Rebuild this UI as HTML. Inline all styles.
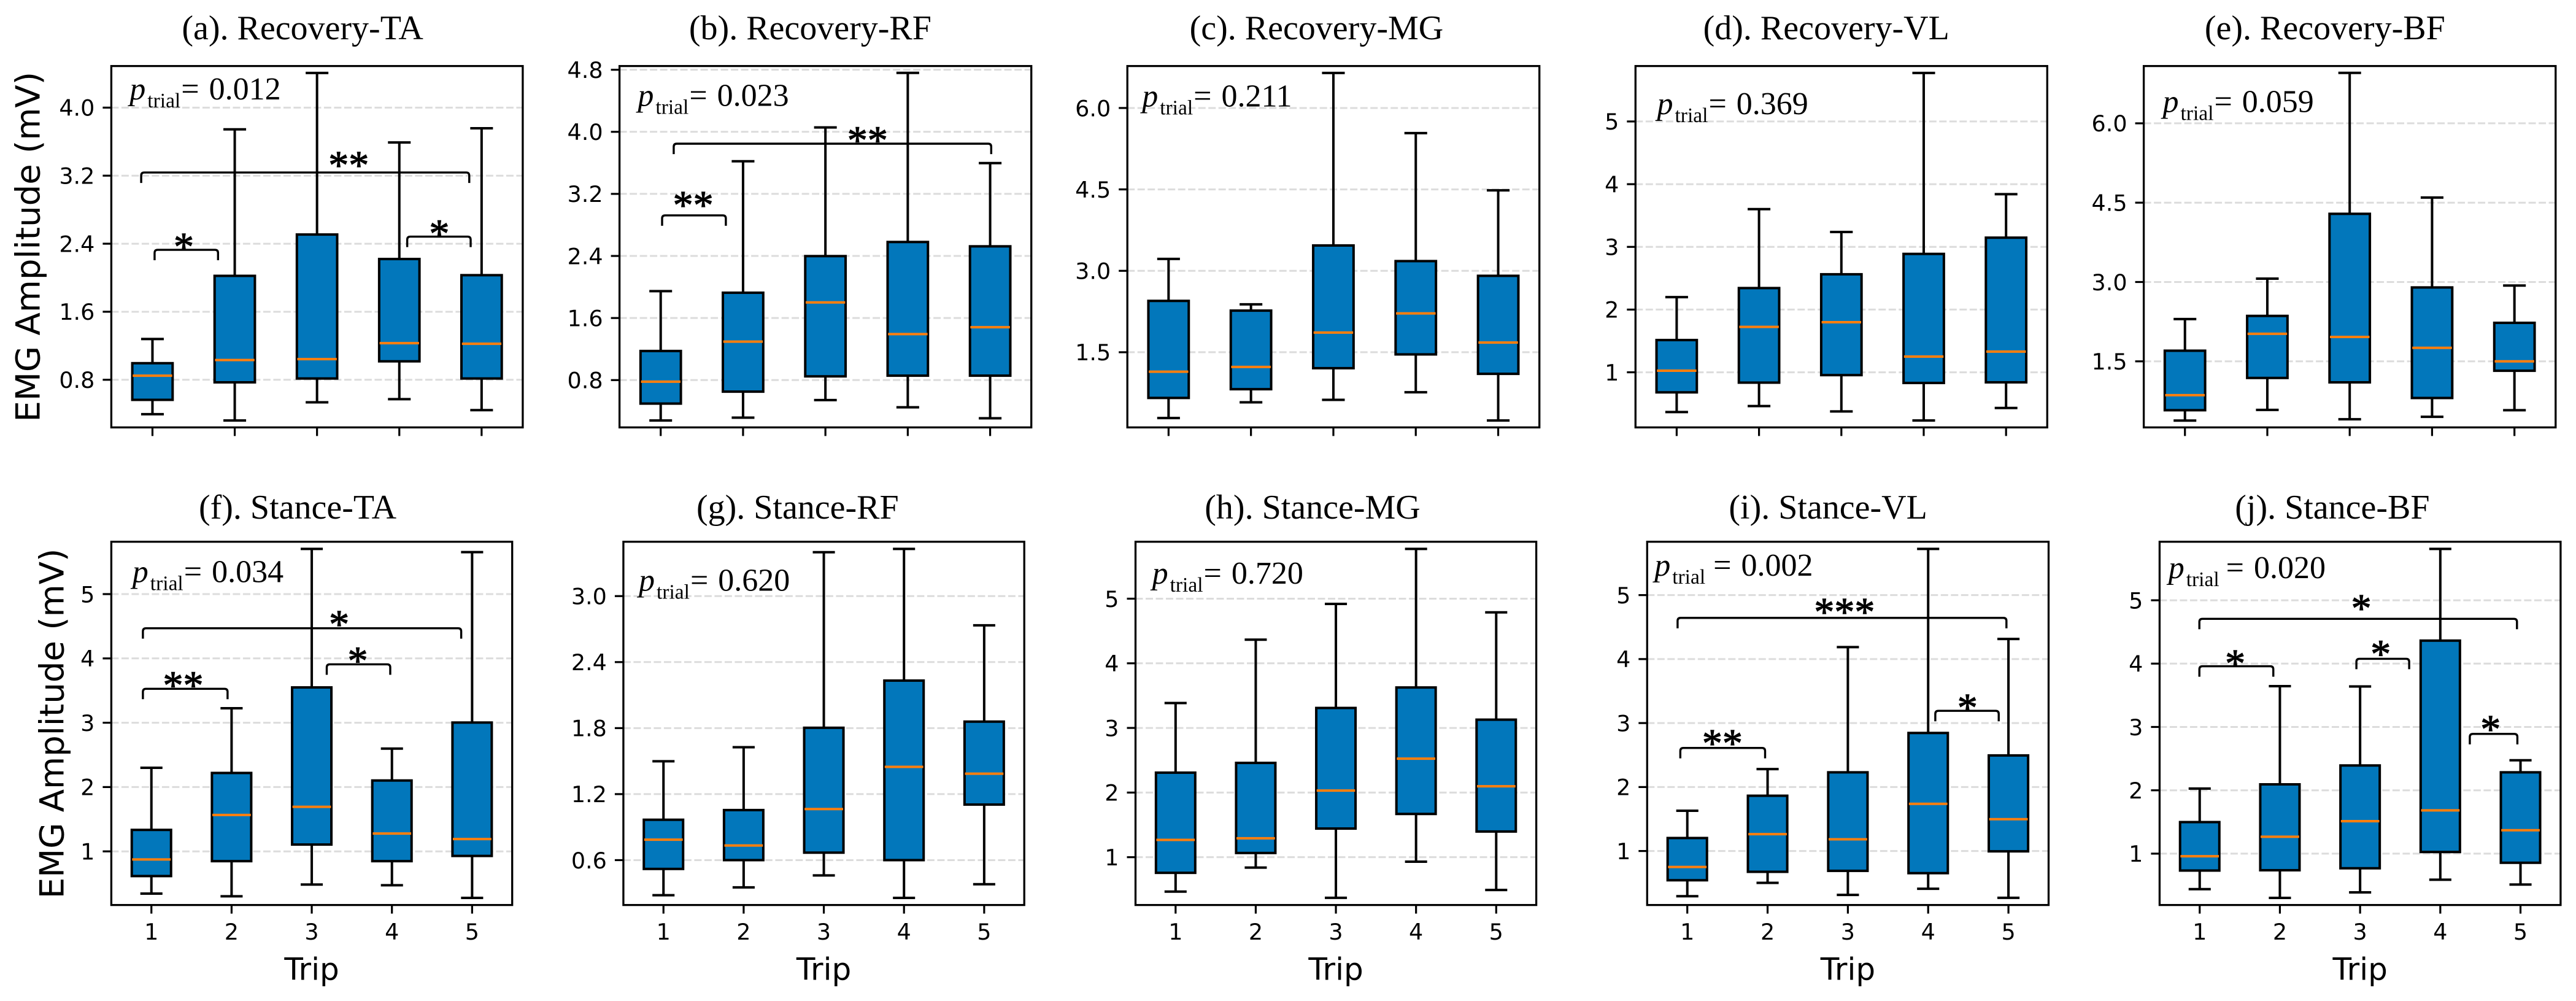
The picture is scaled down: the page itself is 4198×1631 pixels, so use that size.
<!DOCTYPE html>
<html lang="en">
<head>
<meta charset="utf-8">
<title>EMG Amplitude by Trip</title>
<style>
html,body{margin:0;padding:0;background:#fff;}
svg{display:block;}
</style>
</head>
<body>
<svg id="chart" xmlns="http://www.w3.org/2000/svg" width="4198" height="1631" viewBox="0 0 4198 1631"></svg>
<script>
const panelTitles = ["(a). Recovery-TA","(b). Recovery-RF","(c). Recovery-MG","(d). Recovery-VL","(e). Recovery-BF","(f). Stance-TA","(g). Stance-RF","(h). Stance-MG","(i). Stance-VL","(j). Stance-BF"];
const pValues = ["0.012","0.023","0.211","0.369","0.059","0.034","0.620","0.720","0.002","0.020"];
const trips = [1,2,3,4,5];
const xTickLabels = ["1","2","3","4","5"];
const yTickLabels = [
  ["0.8","1.6","2.4","3.2","4.0"],
  ["0.8","1.6","2.4","3.2","4.0","4.8"],
  ["1.5","3.0","4.5","6.0"],
  ["1","2","3","4","5"],
  ["1.5","3.0","4.5","6.0"],
  ["1","2","3","4","5"],
  ["0.6","1.2","1.8","2.4","3.0"],
  ["1","2","3","4","5"],
  ["1","2","3","4","5"],
  ["1","2","3","4","5"]
];
const yDomains = [[0.240,4.489],[0.190,4.848],[0.115,6.773],[0.121,5.884],[0.251,7.083],[0.166,5.814],[0.192,3.494],[0.260,5.881],[0.156,5.834],[0.189,5.924]];
const whiskerLow = [
  [0.395,0.321,0.535,0.572,0.443],
  [0.279,0.316,0.542,0.449,0.308],
  [0.288,0.577,0.623,0.762,0.242],
  [0.366,0.461,0.376,0.231,0.431],
  [0.381,0.582,0.405,0.452,0.576],
  [0.343,0.302,0.484,0.474,0.277],
  [0.281,0.352,0.461,0.257,0.381],
  [0.467,0.839,0.371,0.930,0.492],
  [0.294,0.502,0.314,0.410,0.268],
  [0.440,0.302,0.389,0.589,0.512]
];
const quartile1 = [
  [0.564,0.770,0.815,1.017,0.815],
  [0.497,0.651,0.848,0.857,0.857],
  [0.658,0.819,1.206,1.460,1.102],
  [0.680,0.835,0.955,0.830,0.840],
  [0.576,1.186,1.103,0.807,1.322],
  [0.616,0.848,1.106,0.848,0.929],
  [0.520,0.600,0.668,0.600,1.105],
  [0.758,1.065,1.443,1.669,1.397],
  [0.543,0.675,0.690,0.654,0.995],
  [0.733,0.738,0.769,1.026,0.856]
];
const medians = [
  [0.848,1.032,1.043,1.231,1.223],
  [0.780,1.296,1.801,1.393,1.482],
  [1.142,1.229,1.863,2.215,1.679],
  [1.025,1.724,1.799,1.250,1.330],
  [0.861,2.021,1.962,1.755,1.500],
  [0.874,1.566,1.693,1.278,1.192],
  [0.786,0.733,1.064,1.448,1.386],
  [1.267,1.292,2.031,2.525,2.097],
  [0.751,1.264,1.183,1.737,1.498],
  [0.959,1.267,1.513,1.683,1.370]
];
const quartile3 = [
  [0.995,2.022,2.508,2.220,2.030],
  [1.175,1.926,2.398,2.580,2.524],
  [2.446,2.267,3.467,3.179,2.908],
  [1.514,2.343,2.563,2.888,3.147],
  [1.701,2.359,4.289,2.897,2.228],
  [1.334,2.219,3.549,2.102,3.003],
  [0.967,1.055,1.803,2.232,1.859],
  [2.308,2.459,3.309,3.626,3.128],
  [1.203,1.864,2.230,2.845,2.494],
  [1.498,2.094,2.392,4.363,2.284]
];
const whiskerHigh = [
  [1.279,3.745,4.408,3.590,3.757],
  [1.946,3.621,4.057,4.760,3.597],
  [3.219,2.383,6.646,5.538,4.483],
  [2.199,3.602,3.237,5.774,3.841],
  [2.299,3.063,6.953,4.597,2.933],
  [2.300,3.225,5.703,2.598,5.652],
  [1.499,1.626,3.399,3.429,2.734],
  [3.385,4.366,4.919,5.770,4.789],
  [1.630,2.281,4.187,5.722,4.314],
  [2.027,3.644,3.639,5.811,2.474]
];
/* panel, from trip, to trip, level (mV), stars, star trip, star level (mV) */
const significance = [
  [0,0.863,4.850,3.237,"**",3.385,3.388],
  [0,1.026,1.797,2.328,"*",1.381,2.431],
  [0,4.096,4.867,2.483,"*",4.486,2.586],
  [1,1.158,5.013,3.847,"**",3.511,3.964],
  [1,1.017,1.791,2.923,"**",1.394,3.129],
  [5,0.894,4.864,4.469,"*",3.341,4.616],
  [5,0.894,1.950,3.528,"**",1.396,3.670],
  [5,3.187,3.979,3.908,"*",3.574,4.049],
  [8,0.879,4.975,4.644,"***",2.958,4.822],
  [8,0.913,1.969,2.611,"**",1.437,2.769],
  [8,4.089,4.879,3.191,"*",4.489,3.328],
  [9,0.996,4.956,4.707,"*",3.015,4.964],
  [9,0.996,1.918,3.958,"*",1.443,4.091],
  [9,2.954,3.612,4.076,"*",3.257,4.240],
  [9,4.368,4.961,2.890,"*",4.627,3.054]
];

/* layout only */
const frameLeft = [181.4,1009.6,1837.2,2665.3,3493.6,181.4,1015.9,1850.5,2684.3,3519.4];
const frameRight = [851.9,1680.7,2508.7,3336.3,4164.8,834.7,1669.2,2503.6,3338.5,4172.9];
const rowTop = [107.6,882.7];
const rowBottom = [696.4,1474.6];
const titleCenter = [493.1,1320.4,2145.4,2976.2,3788.8,485,1299.8,2139,2979.1,3800.9];
const titleBaseline = [64,845];
const pLabelX = [211.3,1039.4,1861.2,2700.5,3524.5,215.8,1041,1877.6,2696.2,3533.7];
const pLabelY = [162.2,172.4,173.5,186,182.6,948.4,962.7,951,937.8,942];
const pLabelEqGap = [0,0,0,0,0,0,0,0,12,10];
const yLabelX = [64.3,103.3];
const yLabelY = [402.3,1179];

const NS = "http://www.w3.org/2000/svg";
const svg = document.getElementById("chart");
const SANS = '"DejaVu Sans", sans-serif';
const SERIF = '"Liberation Serif", serif';

function make(tag, attrs, parent, text){
  const el = document.createElementNS(NS, tag);
  for (const k in attrs) el.setAttribute(k, attrs[k]);
  if (text !== undefined) el.textContent = text;
  parent.appendChild(el);
  return el;
}

panelTitles.forEach(function(title, p){
  const row = p < 5 ? 0 : 1;
  const left = frameLeft[p], right = frameRight[p];
  const top = rowTop[row], bottom = rowBottom[row];
  const dom = yDomains[p];
  const xScale = function(t){ return left + (t - 0.5) / 5 * (right - left); };
  const yScale = function(v){ return bottom - (v - dom[0]) / (dom[1] - dom[0]) * (bottom - top); };

  const g = make("g", {}, svg);
  
  

  const titleEl = make("text", {x:titleCenter[p], y:titleBaseline[row], "text-anchor":"middle", "font-family":SERIF, "font-size":56, fill:"#000"}, g, title);
  
  

  /* grid + y ticks */
  yTickLabels[p].forEach(function(lbl){
    const v = parseFloat(lbl), y = yScale(v);
    const grid = make("line", {x1:left, x2:right, y1:y, y2:y, stroke:"#dcdcdc", "stroke-width":3, "stroke-dasharray":"12 4.5"}, g);
    
    
    const tick = make("line", {x1:left-14, x2:left, y1:y, y2:y, stroke:"#000", "stroke-width":3.2}, g);
    
    
    const tl = make("text", {x:left-27, y:y+13.3, "text-anchor":"end", "font-family":SANS, "font-size":36.5, fill:"#000"}, g, lbl);
    
    
  });

  /* boxes */
  const unit = (right - left) / 5;
  trips.forEach(function(t, i){
    const cx = xScale(t);
    const whisk = make("path", {d:"M"+cx+" "+yScale(whiskerLow[p][i])+"V"+yScale(quartile1[p][i])+"M"+cx+" "+yScale(quartile3[p][i])+"V"+yScale(whiskerHigh[p][i]), stroke:"#000", "stroke-width":4, fill:"none"}, g);
    
    
    [whiskerLow[p][i], whiskerHigh[p][i]].forEach(function(v){
      const capEl = make("line", {x1:cx-unit*0.138, x2:cx+unit*0.138, y1:yScale(v), y2:yScale(v), stroke:"#000", "stroke-width":4}, g);
      
      
    });
    const box = make("rect", {x:cx-unit*0.245, width:unit*0.49, y:yScale(quartile3[p][i]), height:yScale(quartile1[p][i])-yScale(quartile3[p][i]), fill:"#0277bb", stroke:"#000", "stroke-width":4}, g);
    
    
    const med = make("line", {x1:cx-unit*0.24, x2:cx+unit*0.24, y1:yScale(medians[p][i]), y2:yScale(medians[p][i]), stroke:"#ff7f0e", "stroke-width":4}, g);
    
    
    const xt = make("line", {x1:cx, x2:cx, y1:bottom, y2:bottom+14, stroke:"#000", "stroke-width":3.2}, g);
    
    
    if (row === 1) {
      const xl = make("text", {x:cx, y:1531, "text-anchor":"middle", "font-family":SANS, "font-size":36.5, fill:"#000"}, g, xTickLabels[i]);
      
      
    }
  });

  /* frame */
  const frame = make("rect", {x:left, y:top, width:right-left, height:bottom-top, fill:"none", stroke:"#000", "stroke-width":3.3}, g);
  
  

  /* significance */
  significance.forEach(function(s){
    if (s[0] !== p) return;
    const x1 = xScale(s[1]), x2 = xScale(s[2]), y = yScale(s[3]), arm = 17, r = 5;
    const br = make("path", {d:"M"+x1+" "+(y+arm)+"V"+(y+r)+"Q"+x1+" "+y+" "+(x1+r)+" "+y+"H"+(x2-r)+"Q"+x2+" "+y+" "+x2+" "+(y+r)+"V"+(y+arm), fill:"none", stroke:"#000", "stroke-width":3.4}, g);
    
    
    const st = make("text", {x:xScale(s[5]), y:yScale(s[6])+31, "text-anchor":"middle", "font-family":SERIF, "font-size":66, fill:"#000", stroke:"#000", "stroke-width":1.2}, g, s[4]);
    
    
  });

  /* p label */
  const pt = make("text", {x:pLabelX[p], y:pLabelY[p], "font-family":SERIF, "font-size":52, fill:"#000"}, g);
  
  
  make("tspan", {"font-style":"italic"}, pt, "p");
  make("tspan", {dx:3, dy:13, "font-size":33.5}, pt, "trial");
  make("tspan", {dx:1 + pLabelEqGap[p], dy:-13}, pt, "=");
  make("tspan", {dx:16}, pt, pValues[p]);

  /* axis labels */
  if (row === 1) {
    const xLab = make("text", {x:(left+right)/2, y:1596.5, "text-anchor":"middle", "font-family":SANS, "font-size":50, fill:"#000"}, g, "Trip");
    
    
  }
  if (p % 5 === 0) {
    const yLab = make("text", {transform:"translate("+yLabelX[row]+" "+yLabelY[row]+") rotate(-90)", "text-anchor":"middle", "font-family":SANS, "font-size":54.5, fill:"#000"}, g, "EMG Amplitude (mV)");
    
    
  }
});
</script>
</body>
</html>
